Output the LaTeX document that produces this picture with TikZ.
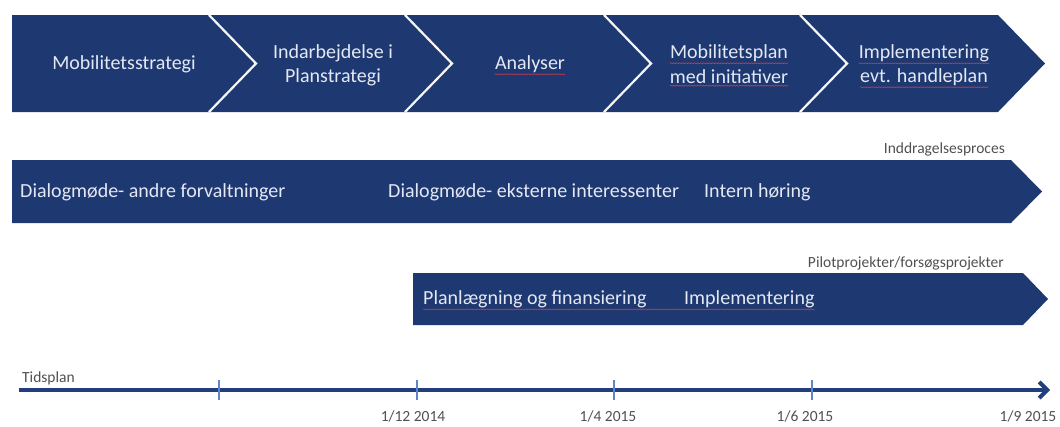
\documentclass[tikz,border=0pt]{standalone}
\usepackage{fontspec}
\setmainfont{Carlito}
\usetikzlibrary{arrows.meta,decorations.pathmorphing}
\definecolor{navy}{RGB}{30,57,114}
\definecolor{barText}{RGB}{228,232,242}
\definecolor{lineBlue}{RGB}{35,62,125}
\definecolor{tickBlue}{RGB}{95,135,200}
\definecolor{labelGray}{RGB}{80,80,80}
\definecolor{spellRed}{RGB}{200,60,70}
\tikzset{
  barfill/.style={fill=navy, draw=none},
  sepline/.style={draw=white!92!gray, line width=2.2pt, line join=miter},
  bartext/.style={text=barText, font=\fontsize{20}{26}\selectfont, inner sep=0pt},
  smalllabel/.style={text=labelGray, font=\fontsize{15.5}{18}\selectfont, inner sep=0pt},
  spell/.style={draw=spellRed, line width=0.6pt, decorate, decoration={snake, amplitude=0.5pt, segment length=3pt}},
  tickmark/.style={draw=tickBlue, line width=2pt},
  timeline/.style={draw=lineBlue, line width=4pt, -{Straight Barb[length=8pt,width=16pt]}}
}
\begin{document}
\begin{tikzpicture}[x=1pt,y=-1pt]
\useasboundingbox (0,0) rectangle (1060,426);
% ---------- top row: chevrons
\fill[barfill] (12,15) -- (998,15) -- (1045,63.5) -- (998,112) -- (12,112) -- cycle;
\draw[sepline] (209,15) -- (256,63.5) -- (209,112);
\draw[sepline] (405,15) -- (452,63.5) -- (405,112);
\draw[sepline] (604,15) -- (651,63.5) -- (604,112);
\draw[sepline] (800,15) -- (847,63.5) -- (800,112);
\node[bartext] (c1) at (124,64) {Mobilitetsstrategi};
\node[bartext] (c2a) at (333,53) {Indarbejdelse i};
\node[bartext] (c2b) at (333,77) {Planstrategi};
\node[bartext] (c3) at (530,64) {Analyser};
\node[bartext] (c4a) at (729,53) {Mobilitetsplan};
\node[bartext] (c4b) at (729,77) {med initiativer};
\node[bartext] (c5a) at (924,53) {Implementering};
\node[bartext] (c5b) at (924,77) {evt. handleplan};
\foreach \n in {c3,c4a,c4b,c5a,c5b}
  \draw[spell] ([yshift=-1.5pt]\n.south west) -- ([yshift=-1.5pt]\n.south east);
% ---------- second row
\node[smalllabel, anchor=east] (l1) at (1005,149) {Inddragelsesproces};
\fill[barfill] (12,160) -- (1011,160) -- (1042,191.5) -- (1011,223) -- (12,223) -- cycle;
\node[bartext, anchor=west] (d1) at (20,192) {Dialogmøde- andre forvaltninger};
\node[bartext, anchor=west] (d2) at (388,192) {Dialogmøde- eksterne interessenter};
\node[bartext, anchor=west] (d3) at (704,192) {Intern høring};
% ---------- third row
\node[smalllabel, anchor=east] (l2) at (1004,263) {Pilotprojekter/forsøgsprojekter};
\fill[barfill] (413,273) -- (1023,273) -- (1048,299) -- (1023,325) -- (413,325) -- cycle;
\node[bartext, anchor=west] (p1) at (423,299) {Planlægning og finansiering};
\node[bartext, anchor=west] (p2) at (684,299) {Implementering};
\draw[spell] ([yshift=-1.5pt]p1.south west) -- ([yshift=-1.5pt]p2.south east);
% ---------- timeline
\coordinate (ts) at (19,390);
\coordinate (te) at (1050,390);
\draw[timeline] (ts) -- (te);
\foreach \x/\nm in {219/t1,417/t2,614/t3,812/t4}{
  \coordinate (\nm a) at (\x,380);
  \coordinate (\nm b) at (\x,400);
  \draw[tickmark] (\nm a) -- (\nm b);
}
\node[smalllabel, anchor=west] (tl) at (22,378) {Tidsplan};
\node[smalllabel] (dt2) at (413,416) {1/12 2014};
\node[smalllabel] (dt3) at (608,416) {1/4 2015};
\node[smalllabel] (dt4) at (805,416) {1/6 2015};
\node[smalllabel] (dt5) at (1028,416) {1/9 2015};
\end{tikzpicture}
\end{document}
